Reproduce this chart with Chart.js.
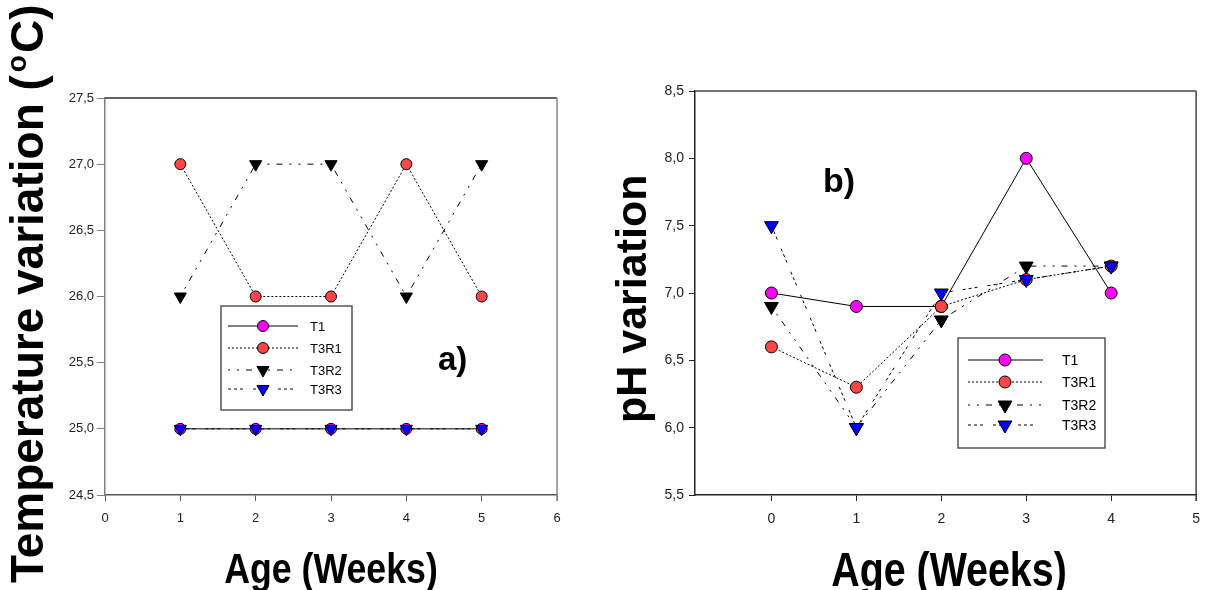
<!DOCTYPE html>
<html><head><meta charset="utf-8">
<script src="https://cdn.jsdelivr.net/npm/chart.js@4/dist/chart.umd.min.js"></script>
<style>
html,body{margin:0;padding:0;background:#fff;width:1210px;height:590px;overflow:hidden}
#ca{position:absolute;left:0;top:0}
#cb{position:absolute;left:600px;top:0}
</style></head><body>
<canvas id="ca" width="600" height="590"></canvas>
<canvas id="cb" width="610" height="590"></canvas>
<script>
// ---------- DATA ----------
const seriesNames = ['T1', 'T3R1', 'T3R2', 'T3R3'];
// Panel a) temperature (°C)
const weeksA = [1, 2, 3, 4, 5];
const tempT1   = [25, 25, 25, 25, 25];
const tempT3R1 = [27, 26, 26, 27, 26];
const tempT3R2 = [26, 27, 27, 26, 27];
const tempT3R3 = [25, 25, 25, 25, 25];
const tempXTicks = [0, 1, 2, 3, 4, 5, 6];
const tempYTicks = [24.5, 25, 25.5, 26, 26.5, 27, 27.5];
// Panel b) pH
const weeksB = [0, 1, 2, 3, 4];
const phT1   = [7.0, 6.9, 6.9, 8.0, 7.0];
const phT3R1 = [6.6, 6.3, 6.9, 7.1, 7.2];
const phT3R2 = [6.9, 6.0, 6.8, 7.2, 7.2];
const phT3R3 = [7.5, 6.0, 7.0, 7.1, 7.2];
const phXTicks = [0, 1, 2, 3, 4, 5];
const phYTicks = [5.5, 6, 6.5, 7, 7.5, 8, 8.5];

// ---------- STYLES ----------
const FONT = '"Liberation Sans", Arial, sans-serif';
const styles = [
  {dash: [],                  shape: 'circle',   bg: '#ff00ff', order: 3},
  {dash: [2, 2],              shape: 'circle',   bg: '#ff4646', order: 2},
  {dash: [2, 7, 2, 7, 6, 7],  shape: 'triangle', bg: '#000000', order: 1},
  {dash: [3, 3, 3, 3, 3, 10], shape: 'triangle', bg: '#0000ff', order: 0}
];

function buildDatasets(xs, seriesList, rCircle, rTri) {
  return seriesList.map((vals, i) => {
    const st = styles[i];
    return {
      label: seriesNames[i],
      data: xs.map((x, k) => ({x: x, y: vals[k]})),
      borderColor: '#000',
      borderWidth: 1,
      borderDash: st.dash,
      pointStyle: st.shape,
      pointRotation: st.shape === 'triangle' ? 180 : 0,
      pointRadius: st.shape === 'triangle' ? rTri : rCircle,
      pointBackgroundColor: st.bg,
      pointBorderColor: '#000',
      pointBorderWidth: 1,
      tension: 0,
      order: st.order,
      fill: false
    };
  });
}

function drawMarker(ctx, st, x, y, rc, rt) {
  ctx.save();
  ctx.setLineDash([]);
  ctx.fillStyle = st.bg; ctx.strokeStyle = '#000'; ctx.lineWidth = 1;
  ctx.beginPath();
  if (st.shape === 'circle') {
    ctx.arc(x, y, rc, 0, Math.PI * 2);
  } else {
    ctx.moveTo(x - rt * 0.866, y - rt * 0.5);
    ctx.lineTo(x + rt * 0.866, y - rt * 0.5);
    ctx.lineTo(x, y + rt);
    ctx.closePath();
  }
  ctx.fill(); ctx.stroke();
  ctx.restore();
}

function makePlugins(cfg) {
  return [{
    id: 'frame',
    beforeDatasetsDraw(chart) {
      const a = chart.chartArea, ctx = chart.ctx;
      ctx.save();
      ctx.lineWidth = 1.5;
      ctx.strokeStyle = cfg.topColor;
      ctx.beginPath(); ctx.moveTo(a.left, a.top); ctx.lineTo(a.right, a.top); ctx.stroke();
      ctx.strokeStyle = cfg.rightColor;
      ctx.beginPath(); ctx.moveTo(a.right, a.top); ctx.lineTo(a.right, a.bottom + 6); ctx.stroke();
      ctx.restore();
    },
    afterDatasetsDraw(chart) {
      const ctx = chart.ctx, L = cfg.legend;
      ctx.save();
      ctx.fillStyle = '#fff';
      ctx.fillRect(L.x, L.y, L.w, L.h);
      ctx.strokeStyle = '#555'; ctx.lineWidth = 1.5; ctx.setLineDash([]);
      ctx.strokeRect(L.x, L.y, L.w, L.h);
      chart.data.datasets.forEach((ds, i) => {
        const y = L.rows[i];
        ctx.save();
        ctx.strokeStyle = '#000'; ctx.lineWidth = 1;
        ctx.setLineDash(ds.borderDash);
        ctx.beginPath(); ctx.moveTo(L.x1, y); ctx.lineTo(L.x2, y); ctx.stroke();
        ctx.restore();
        drawMarker(ctx, styles[i], L.mx, y, L.rc, L.rt);
        ctx.fillStyle = '#000';
        ctx.font = L.font + 'px ' + FONT;
        ctx.textBaseline = 'middle'; ctx.textAlign = 'left';
        ctx.fillText(ds.label, L.tx, y + 1);
      });
      ctx.restore();
    },
    afterDraw(chart) {
      const ctx = chart.ctx;
      ctx.save();
      ctx.fillStyle = '#000';
      // x title (slightly condensed)
      ctx.save();
      ctx.translate(cfg.xTitle.x, cfg.xTitle.y);
      ctx.scale(cfg.xTitle.sx, 1);
      ctx.font = 'bold ' + cfg.xTitle.size + 'px ' + FONT;
      ctx.textAlign = 'center'; ctx.textBaseline = 'alphabetic';
      ctx.fillText(cfg.xTitle.text, 0, 0);
      ctx.restore();
      // y title (rotated)
      ctx.save();
      ctx.translate(cfg.yTitle.x, cfg.yTitle.y);
      ctx.rotate(-Math.PI / 2);
      ctx.textAlign = 'left'; ctx.textBaseline = 'alphabetic';
      let px = 0;
      cfg.yTitle.parts.forEach(p => {
        ctx.font = 'bold ' + p.size + 'px ' + FONT;
        px += (p.gap || 0);
        ctx.fillText(p.t, px, p.dy || 0);
        px += ctx.measureText(p.t).width + (p.after || 0);
      });
      ctx.restore();
      // panel letter
      ctx.font = 'bold ' + cfg.panel.size + 'px ' + FONT;
      ctx.textAlign = 'left'; ctx.textBaseline = 'alphabetic';
      ctx.fillText(cfg.panel.text, cfg.panel.x, cfg.panel.y);
      ctx.restore();
    }
  }];
}

function makeChart(id, xs, seriesList, ax, geom, cfg) {
  const ctx = document.getElementById(id).getContext('2d');
  return new Chart(ctx, {
    type: 'line',
    data: {datasets: buildDatasets(xs, seriesList, geom.rc, geom.rt)},
    options: {
      responsive: false, animation: false, devicePixelRatio: 1,
      layout: {padding: {left: 0, right: geom.r, top: geom.t, bottom: 0}},
      plugins: {legend: {display: false}, tooltip: {enabled: false}},
      scales: {
        x: {
          type: 'linear', min: ax.xMin, max: ax.xMax,
          afterBuildTicks: s => { s.ticks = ax.xTicks.map(v => ({value: v})); },
          afterFit: s => { s.height = geom.xh; },
          ticks: {font: {family: FONT, size: geom.fs}, color: '#222', padding: geom.xpad,
                  maxRotation: 0, autoSkip: false, callback: v => String(v)},
          grid: {drawOnChartArea: false, drawTicks: true, tickLength: 6, color: cfg.bottomColor, lineWidth: 1},
          border: {display: true, color: cfg.bottomColor, width: 1.5}
        },
        y: {
          type: 'linear', min: ax.yMin, max: ax.yMax,
          afterBuildTicks: s => { s.ticks = ax.yTicks.map(v => ({value: v})); },
          afterFit: s => { s.width = geom.yw; },
          ticks: {font: {family: FONT, size: geom.fs}, color: '#222', padding: geom.ypad,
                  autoSkip: false, callback: v => v.toFixed(1).replace('.', ',')},
          grid: {drawOnChartArea: false, drawTicks: true, tickLength: geom.ytl, color: cfg.leftColor, lineWidth: 1},
          border: {display: true, color: cfg.leftColor, width: 1.5}
        }
      }
    },
    plugins: makePlugins(cfg)
  });
}

makeChart('ca', weeksA, [tempT1, tempT3R1, tempT3R2, tempT3R3],
  {xMin: 0, xMax: 6, xTicks: tempXTicks, yMin: 24.5, yMax: 27.5, yTicks: tempYTicks},
  {yw: 105, xh: 95, r: 43, t: 98, fs: 13, xpad: 10, ypad: 3, ytl: 8, rc: 5.5, rt: 7},
  {topColor: '#333', rightColor: '#888', leftColor: '#808080', bottomColor: '#555',
   legend: {x: 221, y: 306, w: 131, h: 104, rows: [326, 348, 370, 389], x1: 228, x2: 298, mx: 263, tx: 310, font: 13, rc: 5.5, rt: 7},
   xTitle: {text: 'Age (Weeks)', x: 331, y: 583, size: 43, sx: 0.83},
   yTitle: {x: 43, y: 583, parts: [{t: 'Temperature variation (', size: 46, after: 3}, {t: 'o', size: 28, dy: -17, after: 2}, {t: 'C)', size: 46}]},
   panel: {text: 'a)', x: 438, y: 370, size: 33}});

makeChart('cb', weeksB, [phT1, phT3R1, phT3R2, phT3R3],
  {xMin: -0.9, xMax: 5, xTicks: phXTicks, yMin: 5.5, yMax: 8.5, yTicks: phYTicks},
  {yw: 95, xh: 95, r: 7, t: 91, fs: 14, xpad: 10, ypad: 5, ytl: 6, rc: 6, rt: 8},
  {topColor: '#444', rightColor: '#444', leftColor: '#222', bottomColor: '#222',
   legend: {x: 358, y: 338, w: 147, h: 110, rows: [360, 382, 405, 425], x1: 368, x2: 443, mx: 405, tx: 462, font: 14, rc: 6, rt: 8},
   xTitle: {text: 'Age (Weeks)', x: 349, y: 586, size: 48, sx: 0.82},
   yTitle: {x: 46, y: 423, parts: [{t: 'pH variation', size: 43}]},
   panel: {text: 'b)', x: 223, y: 192, size: 34}});
</script>
</body></html>
